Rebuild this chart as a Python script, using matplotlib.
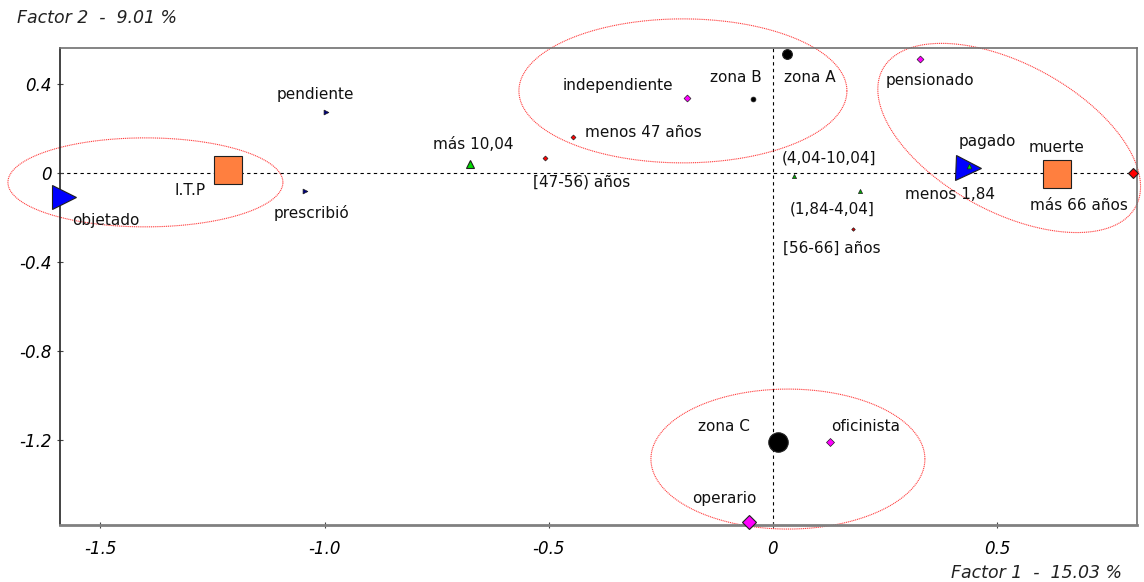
import numpy as np
import matplotlib.pyplot as plt

# category labels and coordinates on the two factors
categories = ["objetado", "I.T.P", "prescribió", "pendiente", "más 10,04",
              "[47-56) años", "menos 47 años", "independiente", "zona B", "zona A",
              "(4,04-10,04]", "(1,84-4,04]", "[56-66] años", "pagado", "menos 1,84",
              "muerte", "más 66 años", "pensionado", "zona C", "oficinista", "operario"]
factor1 = [-1.581, -1.215, -1.044, -0.997, -0.676, -0.508, -0.445, -0.192, -0.045, 0.032,
           0.047, 0.194, 0.178, 0.435, 0.437, 0.633, 0.804, 0.329, 0.011, 0.127, -0.054]
factor2 = [-0.107, 0.015, -0.080, 0.278, 0.042, 0.069, 0.163, 0.341, 0.336, 0.539,
           -0.012, -0.078, -0.250, 0.024, 0.033, -0.005, 0.003, 0.514, -1.210, -1.210, -1.571]

inertia1 = 15.03
inertia2 = 9.01

# marker style per category (marker, face colour, size)
styles = {
    "objetado": (">", "#0000ff", 17), "pagado": (">", "#0000ff", 18),
    "prescribió": (">", "#000080", 3.5), "pendiente": (">", "#000080", 3.5),
    "I.T.P": ("s", "#ff7f3f", 20), "muerte": ("s", "#ff7f3f", 20),
    "más 10,04": ("^", "#00dd00", 6), "(4,04-10,04]": ("^", "#00aa00", 3),
    "(1,84-4,04]": ("^", "#00aa00", 3), "menos 1,84": ("^", "#00dd00", 3.5),
    "[47-56) años": ("D", "#ff0000", 2.5), "menos 47 años": ("D", "#ff0000", 2.5),
    "[56-66] años": ("D", "#dd0000", 1.8), "más 66 años": ("D", "#ff0000", 5.5),
    "independiente": ("D", "#ff00ff", 3.5), "pensionado": ("D", "#ff00ff", 3.5),
    "oficinista": ("D", "#ff00ff", 4), "operario": ("D", "#ff00ff", 7.5),
    "zona B": ("o", "black", 3.5), "zona A": ("o", "black", 7), "zona C": ("o", "black", 14),
}

# label offsets in pixels (right, up)
offsets = {
    "objetado": (42, -23), "I.T.P": (-38, -21), "prescribió": (7, -22),
    "pendiente": (-11, 17), "más 10,04": (3, 19), "[47-56) años": (36, -24),
    "menos 47 años": (70, 5), "independiente": (-69, 12), "zona B": (-17, 21),
    "zona A": (23, -24), "(4,04-10,04]": (35, 18), "(1,84-4,04]": (-28, -18),
    "[56-66] años": (-21, -20), "pagado": (19, 26), "menos 1,84": (-19, -29),
    "muerte": (0, 27), "más 66 años": (-54, -33), "pensionado": (10, -21),
    "zona C": (-54, 15), "oficinista": (36, 15), "operario": (-24, 24),
}

# ellipses: centre (data), semi axes (pixels), angle (deg)
ell_cx = [-1.3995, -0.2007, 0.527, 0.0335]
ell_cy = [-0.041, 0.371, 0.159, -1.287]
ell_a = [137.5, 164, 144, 137]
ell_b = [44.5, 72, 74, 70]
ell_ang = [0, 0, -28.5, 0]

xmin, xmax = -1.590, 0.812
ymin, ymax = -1.584, 0.564

fig = plt.figure(figsize=(11.44, 5.82), dpi=100)
ax = fig.add_axes([0.05245, 0.0979, 0.9414, 0.8196])
ax.set_xlim(xmin, xmax)
ax.set_ylim(ymin, ymax)

ax.axhline(0, color="black", lw=0.8, ls=(0, (3, 3)), zorder=1)
ax.axvline(0, color="black", lw=0.8, ls=(0, (3, 3)), zorder=1)

# pixels per data unit
pos = ax.get_position()
sx = pos.width * 1144 / (xmax - xmin)
sy = pos.height * 582 / (ymax - ymin)

t = np.linspace(0, 2 * np.pi, 400)
for cx, cy, a, b, ang in zip(ell_cx, ell_cy, ell_a, ell_b, ell_ang):
    th = np.radians(ang)
    px = a * np.cos(t) * np.cos(th) - b * np.sin(t) * np.sin(th)
    py = a * np.cos(t) * np.sin(th) + b * np.sin(t) * np.cos(th)
    ax.plot(cx + px / sx, cy + py / sy, color="red", lw=0.8, ls=(0, (1, 0.7)),
            clip_on=False, zorder=2, alpha=0.75)

# big markers first so small ones sit on top
order = sorted(range(len(categories)), key=lambda i: -styles[categories[i]][2])
for i in order:
    name = categories[i]
    m, c, s = styles[name]
    ax.plot(factor1[i], factor2[i], marker=m, color=c, ms=s, mec="#202020",
            mew=0.8 if s > 5 else 0.5, ls="none", clip_on=False, zorder=3)

for i, name in enumerate(categories):
    dx, dy = offsets[name]
    ax.annotate(name, (factor1[i], factor2[i]), xytext=(dx, dy),
                textcoords="offset pixels", ha="center", va="center",
                fontsize=11, color="#111111", annotation_clip=False, zorder=4)

ax.set_xticks([-1.5, -1.0, -0.5, 0, 0.5])
ax.set_xticklabels(["-1.5", "-1.0", "-0.5", "0", "0.5"], fontstyle="italic", fontsize=12)
ax.set_yticks([0.4, 0, -0.4, -0.8, -1.2])
ax.set_yticklabels(["0.4", "0", "-0.4", "-0.8", "-1.2"], fontstyle="italic", fontsize=12)
ax.tick_params(axis="x", direction="inout", length=5, pad=8, color="#444444")
ax.tick_params(axis="y", direction="inout", length=4, pad=4, color="#444444")

for side in ["top", "right"]:
    ax.spines[side].set_color("#707070")
    ax.spines[side].set_linewidth(1.2)
ax.spines["left"].set_color("#222222")
ax.spines["left"].set_linewidth(1.2)
ax.spines["bottom"].set_color("#808080")
ax.spines["bottom"].set_linewidth(2)

fig.text(17 / 1144, 1 - 18 / 582, "Factor 2  -  %.2f %%" % inertia2, fontstyle="italic",
         fontsize=12.5, ha="left", va="center", color="#222222")
fig.text(1122 / 1144, 1 - 573 / 582, "Factor 1  -  %.2f %%" % inertia1, fontstyle="italic",
         fontsize=12.5, ha="right", va="center", color="#222222")

fig.savefig("out.png", dpi=100)
